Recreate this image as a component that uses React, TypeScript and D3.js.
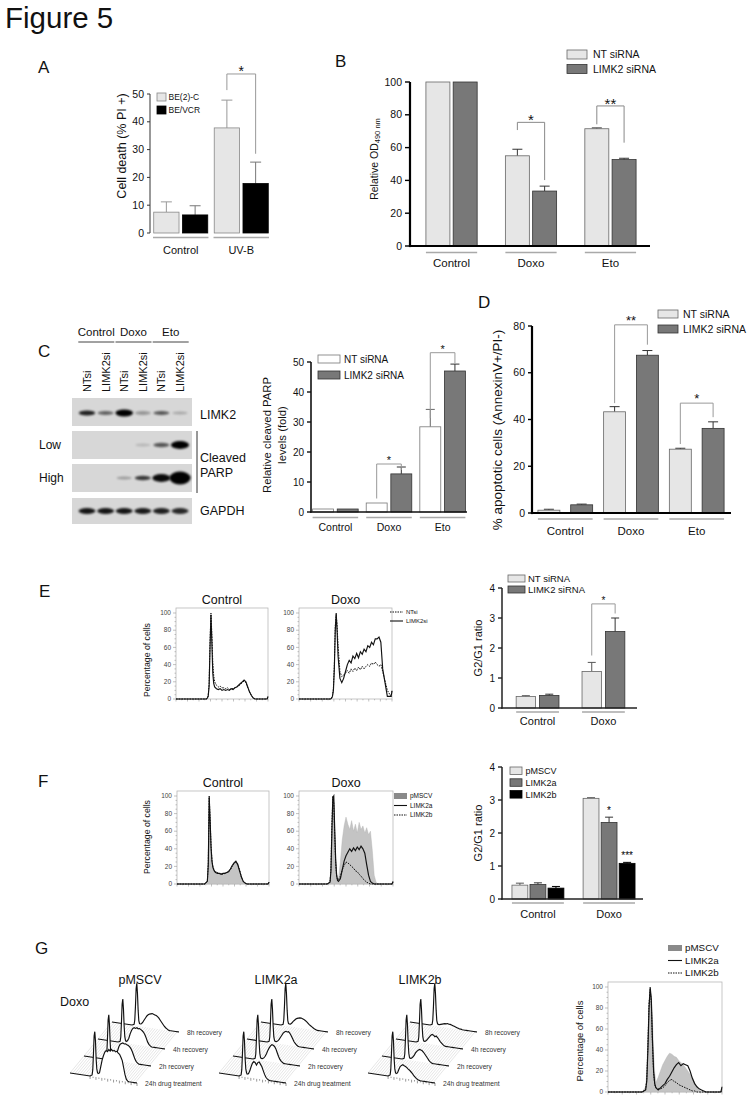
import React from 'react';
import * as d3 from 'd3';

const FONT = "'Liberation Sans', Arial, Helvetica, sans-serif";
const LIGHT = '#e6e6e6';
const DARK = '#787878';
const INK = '#111';

// ===== Panel A =====
const A_GROUPS = ['Control', 'UV-B'];
const A_SERIES = ['BE(2)-C', 'BE/VCR'];
const A_MEANS = [[7.5, 6.5], [37.8, 17.8]];
const A_ERR_TOPS = [[11.2, 9.8], [47.8, 25.5]];
const A_TICKS = [0, 10, 20, 30, 40, 50];
const A_BRACKETS = [{ g: 1, top: 57.2, l: 51.4, r: 28.5, label: '*' }];

// ===== Panel B =====
const B_GROUPS = ['Control', 'Doxo', 'Eto'];
const B_SERIES = ['NT siRNA', 'LIMK2 siRNA'];
const B_MEANS = [[100, 100], [55, 33.5], [71.5, 52.7]];
const B_ERR_TOPS = [[100, 100], [59, 36.5], [72, 53.5]];
const B_TICKS = [0, 20, 40, 60, 80, 100];
const B_BRACKETS = [
  { g: 1, top: 75.4, l: 70.7, r: 40.2, label: '*' },
  { g: 2, top: 85.4, l: 74.2, r: 63, label: '**' },
];

// ===== Panel C =====
const C_TREATMENTS = ['Control', 'Doxo', 'Eto'];
const C_LANES = ['NTsi', 'LIMK2si', 'NTsi', 'LIMK2si', 'NTsi', 'LIMK2si'];
const BLOT_ROWS = ['LIMK2', 'PARP low', 'PARP high', 'GAPDH'];
const BAND_INTENSITY = [
  [0.85, 0.55, 1.0, 0.3, 0.6, 0.22],
  [0, 0, 0, 0.15, 0.6, 1.0],
  [0, 0, 0.28, 0.75, 0.95, 1.0],
  [0.9, 0.9, 0.9, 0.88, 0.85, 0.82],
];
const BAND_THICKNESS = [
  [4, 3, 6, 3, 3, 2],
  [0, 0, 0, 2, 3.5, 7],
  [0, 0, 2, 3.5, 7, 12],
  [5, 5, 5, 5, 5, 5],
];
const C_GROUPS = ['Control', 'Doxo', 'Eto'];
const C_SERIES = ['NT siRNA', 'LIMK2 siRNA'];
const C_MEANS = [[1, 1], [3, 12.7], [28.4, 47]];
const C_ERR_TOPS = [[1, 1], [3, 15], [34.2, 49.3]];
const C_TICKS = [0, 10, 20, 30, 40, 50];
const C_BRACKETS = [
  { g: 1, top: 16, l: 4.5, r: 14, label: '*' },
  { g: 2, top: 53.1, l: 31.3, r: 49.6, label: '*' },
];

// ===== Panel D =====
const D_GROUPS = ['Control', 'Doxo', 'Eto'];
const D_SERIES = ['NT siRNA', 'LIMK2 siRNA'];
const D_MEANS = [[1.2, 3.5], [43.3, 67.5], [27.3, 36.2]];
const D_ERR_TOPS = [[1.6, 3.8], [45.5, 69.5], [27.7, 39]];
const D_TICKS = [0, 20, 40, 60, 80];
const D_BRACKETS = [
  { g: 1, top: 80.5, l: 47, r: 72, label: '**' },
  { g: 2, top: 47, l: 29.5, r: 41, label: '*' },
];

// ===== Panel E (bar) =====
const E_GROUPS = ['Control', 'Doxo'];
const E_SERIES = ['NT siRNA', 'LIMK2 siRNA'];
const E_MEANS = [[0.38, 0.42], [1.22, 2.55]];
const E_ERR_TOPS = [[0.41, 0.46], [1.52, 3.0]];
const E_TICKS = [0, 1, 2, 3, 4];
const E_BRACKETS = [{ g: 1, top: 3.47, l: 1.75, r: 3.15, label: '*' }];

// ===== Panel F (bar) =====
const F_GROUPS = ['Control', 'Doxo'];
const F_SERIES = ['pMSCV', 'LIMK2a', 'LIMK2b'];
const F_MEANS = [[0.42, 0.44, 0.33], [3.05, 2.32, 1.08]];
const F_ERR_TOPS = [[0.48, 0.49, 0.38], [3.07, 2.48, 1.11]];
const F_TICKS = [0, 1, 2, 3, 4];
const F_STARS = [{ g: 1, s: 1, label: '*' }, { g: 1, s: 2, label: '***' }];

// ===== Flow histograms (DNA content grid, % of max) =====
const HX = [0, 30, 33, 34, 35, 36, 37, 38, 39, 40, 41, 42, 44, 46, 48, 50, 52, 54, 56, 58, 60, 62, 64, 66, 68, 70, 72, 74, 76, 78, 80, 82, 84, 86, 88, 90, 95, 99, 100];
const HIST_TICKS = [0, 20, 40, 60, 80, 100];

const E_CTRL_LIMK2SI = [0, 0, 0, 1, 3, 15, 60, 98, 65, 30, 18, 14, 12, 11, 12, 10, 11, 10, 11, 10, 12, 11, 13, 14, 16, 18, 20, 22, 20, 14, 8, 4, 1, 0, 0, 0, 0, 0, 3];
const E_CTRL_NTSI = [0, 0, 0, 1, 4, 18, 68, 100, 75, 42, 27, 20, 16, 14, 15, 13, 13, 12, 13, 11, 12, 12, 13, 14, 15, 17, 19, 21, 19, 13, 8, 4, 1, 0, 0, 0, 0, 0, 2];
const E_DOXO_LIMK2SI = [0, 0, 0, 0, 1, 3, 10, 35, 80, 100, 78, 50, 24, 19, 24, 32, 40, 45, 42, 50, 47, 53, 48, 55, 52, 58, 55, 62, 60, 66, 63, 70, 70, 72, 66, 35, 3, 3, 9];
const E_DOXO_NTSI = [0, 0, 0, 0, 1, 4, 12, 40, 85, 98, 85, 62, 32, 26, 28, 30, 33, 30, 35, 32, 36, 33, 37, 34, 38, 35, 38, 40, 38, 42, 40, 43, 40, 38, 40, 32, 10, 3, 10];

const F_CTRL_PMSCV = [0, 0, 3, 20, 96, 70, 40, 25, 19, 16, 15, 14, 13, 12, 12, 12, 13, 13, 15, 17, 20, 23, 26, 24, 17, 9, 3, 1, 0, 0, 0, 0, 0, 0, 0, 0, 0, 0, 2];
const F_CTRL_LIMK2A = [0, 0, 3, 22, 99, 72, 42, 26, 19, 16, 14, 13, 12, 12, 11, 12, 12, 13, 14, 17, 21, 24, 26, 22, 15, 8, 3, 1, 0, 0, 0, 0, 0, 0, 0, 0, 0, 0, 2];
const F_CTRL_LIMK2B = [0, 0, 3, 24, 100, 74, 44, 27, 20, 17, 15, 14, 13, 12, 12, 11, 12, 13, 14, 16, 20, 23, 25, 23, 16, 8, 3, 1, 0, 0, 0, 0, 0, 0, 0, 0, 0, 0, 2];
const F_DOXO_PMSCV = [0, 0, 2, 12, 50, 88, 92, 60, 30, 14, 8, 6, 25, 50, 66, 76, 68, 62, 72, 60, 68, 58, 70, 62, 66, 58, 64, 56, 60, 38, 10, 2, 0, 0, 0, 0, 0, 0, 2];
const F_DOXO_LIMK2A = [0, 0, 2, 15, 60, 98, 100, 62, 28, 10, 4, 3, 6, 16, 26, 32, 36, 40, 37, 41, 38, 42, 39, 43, 40, 35, 22, 10, 3, 1, 0, 0, 0, 0, 0, 0, 0, 0, 3];
const F_DOXO_LIMK2B = [0, 0, 2, 18, 68, 100, 92, 55, 24, 9, 5, 5, 9, 16, 21, 25, 24, 22, 20, 18, 15, 14, 11, 9, 6, 4, 2, 1, 0, 0, 0, 0, 0, 0, 0, 0, 0, 0, 2];

const G_PMSCV = [0, 0, 5, 18, 50, 82, 95, 92, 70, 38, 18, 9, 14, 20, 26, 30, 34, 37, 36, 34, 33, 30, 28, 26, 23, 20, 17, 14, 9, 5, 2, 0, 0, 0, 0, 0, 0, 0, 2];
const G_LIMK2A = [0, 0, 2, 10, 40, 80, 100, 88, 50, 20, 8, 4, 2, 4, 6, 8, 12, 15, 19, 23, 26, 28, 25, 27, 26, 25, 20, 13, 8, 5, 3, 2, 1, 0, 0, 0, 0, 0, 5];
const G_LIMK2B = [0, 0, 2, 12, 45, 85, 98, 85, 45, 18, 7, 4, 3, 3, 4, 6, 9, 11, 12, 10, 9, 7, 6, 5, 4, 3, 2, 1, 1, 0, 0, 0, 0, 0, 0, 0, 0, 0, 3];

// ===== Panel G 3D recovery traces (front to back) =====
const G3_TIMEPOINTS = ['24h drug treatment', '2h recovery', '4h recovery', '8h recovery'];
const G3_PMSCV = [
  [0, 0, 3, 15, 50, 90, 100, 80, 40, 18, 10, 8, 10, 25, 40, 50, 58, 62, 60, 65, 62, 66, 63, 65, 62, 64, 60, 58, 52, 45, 30, 15, 5, 1, 0, 0, 0, 0, 0],
  [0, 0, 2, 12, 45, 88, 100, 78, 40, 15, 6, 4, 4, 6, 12, 22, 32, 38, 40, 42, 40, 41, 39, 38, 36, 32, 26, 18, 10, 5, 2, 0, 0, 0, 0, 0, 0, 0, 0],
  [0, 0, 2, 12, 45, 85, 97, 75, 38, 14, 6, 4, 6, 12, 22, 30, 35, 37, 36, 38, 36, 37, 35, 33, 30, 25, 18, 10, 5, 2, 0, 0, 0, 0, 0, 0, 0, 0, 0],
  [0, 0, 2, 12, 42, 82, 94, 72, 35, 12, 6, 5, 6, 10, 15, 20, 25, 28, 30, 31, 32, 31, 30, 29, 27, 24, 20, 16, 12, 8, 5, 3, 1, 0, 0, 0, 0, 0, 0],
];
const G3_LIMK2A = [
  [0, 0, 3, 15, 50, 90, 100, 80, 40, 18, 10, 7, 8, 15, 25, 33, 37, 35, 30, 36, 38, 33, 28, 20, 12, 6, 3, 1, 0, 0, 0, 0, 0, 0, 0, 0, 0, 0, 0],
  [0, 0, 2, 12, 45, 88, 100, 78, 40, 15, 6, 4, 4, 6, 10, 16, 24, 30, 35, 38, 37, 35, 30, 22, 14, 8, 4, 2, 0, 0, 0, 0, 0, 0, 0, 0, 0, 0, 0],
  [0, 0, 2, 12, 45, 85, 97, 75, 38, 14, 6, 4, 4, 6, 10, 15, 20, 25, 28, 30, 29, 30, 27, 22, 16, 10, 6, 3, 1, 0, 0, 0, 0, 0, 0, 0, 0, 0, 0],
  [0, 0, 2, 12, 42, 82, 94, 72, 35, 12, 6, 5, 5, 8, 12, 15, 18, 20, 21, 22, 22, 21, 20, 18, 16, 13, 10, 8, 6, 4, 2, 1, 0, 0, 0, 0, 0, 0, 0],
];
const G3_LIMK2B = [
  [0, 0, 3, 15, 50, 90, 100, 80, 40, 18, 10, 8, 10, 18, 25, 28, 30, 28, 27, 25, 22, 20, 17, 14, 10, 7, 4, 2, 1, 0, 0, 0, 0, 0, 0, 0, 0, 0, 0],
  [0, 0, 2, 12, 45, 88, 100, 78, 40, 15, 6, 4, 5, 8, 12, 18, 22, 25, 27, 26, 25, 22, 18, 14, 10, 6, 3, 1, 0, 0, 0, 0, 0, 0, 0, 0, 0, 0, 0],
  [0, 0, 2, 12, 45, 85, 97, 75, 38, 14, 6, 4, 5, 8, 12, 16, 20, 22, 21, 18, 20, 17, 13, 9, 6, 3, 1, 0, 0, 0, 0, 0, 0, 0, 0, 0, 0, 0, 0],
  [0, 0, 2, 12, 42, 82, 94, 72, 35, 12, 6, 4, 4, 5, 6, 7, 8, 8, 9, 8, 8, 7, 6, 5, 4, 3, 2, 1, 1, 0, 0, 0, 0, 0, 0, 0, 0, 0, 0],
];

// ---------------------------------------------------------------
function BarChart({ c }: any) {
  const x0 = d3.scaleBand().domain(c.groups).range(c.xRange).paddingInner(c.padInner).paddingOuter(c.padOuter);
  const x1 = d3.scaleBand().domain(c.series).range([0, x0.bandwidth()]).paddingInner(c.sPadInner).paddingOuter(c.sPadOuter || 0);
  const y = d3.scaleLinear().domain([0, c.yMax]).range([c.y0, c.yTop]);
  const bw = x1.bandwidth();
  const left = (gi: number, si: number) => (x0(c.groups[gi]) as number) + (x1(c.series[si]) as number);
  const mid = (gi: number, si: number) => left(gi, si) + bw / 2;
  return (
    <g>
      {c.groups.map((g: string, gi: number) => (
        <g key={g}>
          <line x1={(x0(g) as number) - c.glExt} x2={(x0(g) as number) + x0.bandwidth() + c.glExt} y1={c.glY} y2={c.glY} stroke="#a9a9a9" strokeWidth={1.6} />
          <text x={(x0(g) as number) + x0.bandwidth() / 2} y={c.labelY} textAnchor="middle" fontSize={c.labelFont} fill={INK}>{g}</text>
          {c.series.map((s: string, si: number) => {
            const v = c.means[gi][si];
            const e = c.errs[gi][si];
            const xl = left(gi, si);
            const xm = mid(gi, si);
            return (
              <g key={s}>
                {e > v && (
                  <path d={`M${xm},${y(v)}V${y(e)}M${xm - c.capW / 2},${y(e)}H${xm + c.capW / 2}`} stroke={c.errColors[si]} strokeWidth={1} fill="none" />
                )}
                <rect x={xl} y={y(v)} width={bw} height={y(0) - y(v)} fill={c.fills[si]} stroke={c.strokes[si]} strokeWidth={0.8} />
              </g>
            );
          })}
        </g>
      ))}
      <line x1={c.axisX} x2={c.axisX} y1={y(0) + (c.xAxis ? c.axisW / 2 : 0)} y2={y(c.yMax)} stroke={c.axisColor} strokeWidth={c.axisW} />
      {c.xAxis && <line x1={c.axisX - c.axisW / 2} x2={c.xEnd} y1={y(0)} y2={y(0)} stroke={c.axisColor} strokeWidth={c.axisW} />}
      {c.ticks.map((t: number) => (
        <g key={t}>
          <line x1={c.axisX - c.tickLen} x2={c.axisX} y1={y(t)} y2={y(t)} stroke={c.axisColor} strokeWidth={Math.min(1.4, c.axisW)} />
          <text x={c.axisX - c.tickLen - 3} y={y(t)} dy="0.35em" textAnchor="end" fontSize={c.tickFont} fill={INK}>{t}</text>
        </g>
      ))}
      {(c.brackets || []).map((b: any, i: number) => {
        const xa = mid(b.g, 0);
        const xb = mid(b.g, 1);
        return (
          <g key={'br' + i}>
            <path d={`M${xa},${y(b.l)}V${y(b.top)}H${xb}V${y(b.r)}`} fill="none" stroke={c.brColor} strokeWidth={1} />
            <text x={(xa + xb) / 2} y={y(b.top) + c.starDy} textAnchor="middle" fontSize={c.starFont} fill={INK}>{b.label}</text>
          </g>
        );
      })}
      {(c.stars || []).map((s: any, i: number) => (
        <text key={'st' + i} x={mid(s.g, s.s)} y={y(c.errs[s.g][s.s]) + c.starDy} textAnchor="middle" fontSize={c.starFont} fill="#000">{s.label}</text>
      ))}
    </g>
  );
}

function Legend({ l }: any) {
  return (
    <g>
      {l.items.map((it: any, i: number) => (
        <g key={i}>
          <rect x={l.x} y={l.y + i * l.gap} width={l.w} height={l.h} fill={it.fill} stroke={it.stroke} strokeWidth={0.8} />
          <text x={l.x + l.w + l.tx} y={l.y + i * l.gap + l.h / 2} dy="0.36em" fontSize={l.font} fill={INK}>{it.label}</text>
        </g>
      ))}
    </g>
  );
}

function Histo({ h }: any) {
  const xs = d3.scaleLinear().domain([0, 100]).range([h.x0, h.x1]);
  const ys = d3.scaleLinear().domain([0, 100]).range([h.yb, h.yt]);
  const line = d3.line<number>().x((_d, i) => xs(HX[i])).y((d) => ys(d));
  const area = d3.area<number>().x((_d, i) => xs(HX[i])).y0(ys(0)).y1((d) => ys(d));
  const top = ys(100) - 5;
  return (
    <g>
      <rect x={h.x0} y={top} width={h.x1 - h.x0} height={h.yb - top} fill="none" stroke="#b8b8b8" strokeWidth={0.8} />
      {d3.range(0, 101, 5).map((t) => (
        <line key={'yt' + t} x1={h.x0 - (t % 20 === 0 ? 3 : 1.5)} x2={h.x0} y1={ys(t)} y2={ys(t)} stroke="#999" strokeWidth={0.6} />
      ))}
      {HIST_TICKS.map((t) => (
        <text key={'yl' + t} x={h.x0 - 5} y={ys(t)} dy="0.35em" textAnchor="end" fontSize={h.tickFont || 6.5} fill="#444">{t}</text>
      ))}
      {d3.range(0, 100.1, 6.25).map((t, i) => (
        <line key={'xt' + i} x1={xs(t)} x2={xs(t)} y1={h.yb} y2={h.yb + (i % 2 === 0 ? 2.5 : 1.3)} stroke="#999" strokeWidth={0.6} />
      ))}
      {h.curves.map((cv: any, i: number) =>
        cv.kind === 'fill' ? (
          <path key={i} d={area(cv.ys) as string} fill="#c4c4c4" stroke="#b0b0b0" strokeWidth={0.4} />
        ) : (
          <path key={i} d={line(cv.ys) as string} fill="none" stroke="#111" strokeWidth={cv.kind === 'solid' ? 1.15 : 1}
            strokeDasharray={cv.kind === 'dotted' ? '1.6 1.1' : undefined} />
        )
      )}
      {h.title && <text x={(h.x0 + h.x1) / 2} y={h.titleY} textAnchor="middle" fontSize={12.5} fill={INK}>{h.title}</text>}
      {h.ylabel && (
        <text transform={`translate(${h.ylabelX},${h.ylabelY}) rotate(-90)`} textAnchor="middle" fontSize={h.ylabelFont} fill={INK}>{h.ylabel}</text>
      )}
    </g>
  );
}

function LineLegend({ l }: any) {
  return (
    <g>
      {l.items.map((it: any, i: number) => {
        const yy = l.y + i * l.gap;
        return (
          <g key={i}>
            {it.kind === 'fill' ? (
              <rect x={l.x} y={yy - 3} width={l.w} height={6} fill="#8a8a8a" />
            ) : (
              <line x1={l.x} x2={l.x + l.w} y1={yy} y2={yy} stroke="#111" strokeWidth={1.1} strokeDasharray={it.kind === 'dotted' ? '1.5 1' : undefined} />
            )}
            <text x={l.x + l.w + 3} y={yy} dy="0.35em" fontSize={l.font} fill={INK}>{it.label}</text>
          </g>
        );
      })}
    </g>
  );
}

function Waterfall({ w }: any) {
  const W = 67, S = 10, DX = 14, DY = -17, H = 0.45;
  const P = (i: number, u: number, v: number): [number, number] => [w.ox + i * DX + (u / 100) * W, w.oy + i * DY + (u / 100) * S - v * H];
  const n = w.traces.length;
  const hatch = d3.range(0, 100.01, 3.6).map((u) => {
    const a = P(0, u, 0);
    const b = P(n - 1, u, 0);
    return `M${a[0]},${a[1]}L${b[0]},${b[1]}`;
  }).join('');
  const order = d3.range(n).reverse();
  return (
    <g>
      <path d={hatch} stroke="#cdcdcd" strokeWidth={0.5} fill="none" />
      {d3.range(30, 100.1, 4.375).map((u, k) => {
        const a = P(0, u, 0);
        return <line key={'tk' + k} x1={a[0]} x2={a[0]} y1={a[1]} y2={a[1] + (k % 2 === 0 ? 3 : 1.6)} stroke="#555" strokeWidth={0.6} />;
      })}
      {order.map((i) => {
        const ys = w.traces[i];
        const pts = HX.map((u, k) => P(i, u, ys[k]));
        const d = d3.line()(pts) as string;
        const a = P(i, 0, 0);
        const b = P(i, 100, 0);
        return (
          <g key={i}>
            <path d={`${d}L${b[0]},${b[1]}L${a[0]},${a[1]}Z`} fill="#fff" stroke="none" />
            <path d={d} fill="none" stroke="#111" strokeWidth={1.15} />
            <text x={b[0] + 8} y={b[1] + 3} fontSize={6.7} fill="#333">{w.labels[i]}</text>
          </g>
        );
      })}
    </g>
  );
}

function Blot() {
  const lane = d3.scalePoint<number>().domain(d3.range(6)).range([87, 180]);
  const rows = [[398, 426], [431, 459], [464, 492], [498, 524]];
  return (
    <g>
      <defs>
        <filter id="bandblur" x="-50%" y="-300%" width="200%" height="700%">
          <feGaussianBlur stdDeviation="0.9" />
        </filter>
      </defs>
      {C_TREATMENTS.map((t, k) => {
        const cx = ((lane(2 * k) as number) + (lane(2 * k + 1) as number)) / 2;
        return (
          <g key={t}>
            <text x={cx} y={336} textAnchor="middle" fontSize={11.5} fill={INK}>{t}</text>
            <line x1={cx - 18} x2={cx + 18} y1={342} y2={342} stroke="#444" strokeWidth={1} />
          </g>
        );
      })}
      {C_LANES.map((ln, k) => (
        <text key={k} transform={`translate(${lane(k)},392) rotate(-90)`} dy="0.36em" fontSize={11} fill={INK}>{ln}</text>
      ))}
      {BLOT_ROWS.map((r, ri) => {
        const [y0, y1] = rows[ri];
        const cy = (y0 + y1) / 2 + (ri === 0 ? 1 : 0);
        return (
          <g key={r}>
            <rect x={72} y={y0} width={120} height={y1 - y0} fill="#d7d7d7" />
            {BAND_INTENSITY[ri].map((I, k) =>
              I > 0 ? (
                <ellipse key={k} cx={lane(k)} cy={cy} rx={(14 + BAND_THICKNESS[ri][k] * 0.6) / 2} ry={BAND_THICKNESS[ri][k] / 2 + 0.4}
                  fill="#000" opacity={I} filter="url(#bandblur)" />
              ) : null
            )}
          </g>
        );
      })}
      <text x={200} y={419} fontSize={12.5} fill={INK}>LIMK2</text>
      <text x={200} y={462} fontSize={12.5} fill={INK}>Cleaved</text>
      <text x={200} y={477} fontSize={12.5} fill={INK}>PARP</text>
      <text x={200} y={515} fontSize={12.5} fill={INK}>GAPDH</text>
      <text x={39} y={449} fontSize={12} fill={INK}>Low</text>
      <text x={39} y={482} fontSize={12} fill={INK}>High</text>
      <line x1={197} x2={197} y1={431} y2={493} stroke="#333" strokeWidth={1} />
    </g>
  );
}

// ---------------------------------------------------------------
const A_CFG = {
  groups: A_GROUPS, series: A_SERIES, means: A_MEANS, errs: A_ERR_TOPS, ticks: A_TICKS, brackets: A_BRACKETS,
  xRange: [152, 270], padInner: 0.05, padOuter: 0, sPadInner: 0.12, sPadOuter: 0.06,
  yMax: 50, y0: 233, yTop: 94, axisX: 150, axisW: 1, axisColor: '#333', xAxis: false, tickLen: 3, tickFont: 10.5,
  fills: [LIGHT, '#000'], strokes: ['#888', '#000'], errColors: ['#999', '#777'], capW: 11,
  glY: 237.5, glExt: -1, labelY: 254, labelFont: 11, brColor: '#999', starFont: 14, starDy: 2,
};
const B_CFG = {
  groups: B_GROUPS, series: B_SERIES, means: B_MEANS, errs: B_ERR_TOPS, ticks: B_TICKS, brackets: B_BRACKETS,
  xRange: [414, 648], padInner: 0.355, padOuter: 0.15, sPadInner: 0.12, sPadOuter: 0,
  yMax: 100, y0: 246, yTop: 82, axisX: 410, axisW: 2.2, axisColor: '#000', xAxis: true, xEnd: 650, tickLen: 5, tickFont: 10.5,
  fills: [LIGHT, DARK], strokes: ['#666', '#333'], errColors: ['#333', '#333'], capW: 10,
  glY: 252.5, glExt: 0, labelY: 267, labelFont: 11.5, brColor: '#888', starFont: 15, starDy: 3,
};
const C_CFG = {
  groups: C_GROUPS, series: C_SERIES, means: C_MEANS, errs: C_ERR_TOPS, ticks: C_TICKS, brackets: C_BRACKETS,
  xRange: [311, 467], padInner: 0.15, padOuter: 0.03, sPadInner: 0.15, sPadOuter: 0,
  yMax: 50, y0: 512, yTop: 362, axisX: 311, axisW: 1.6, axisColor: '#111', xAxis: true, xEnd: 467, tickLen: 4, tickFont: 10,
  fills: ['#fff', DARK], strokes: ['#777', '#333'], errColors: ['#666', '#333'], capW: 9,
  glY: 517.5, glExt: 0, labelY: 531, labelFont: 10.5, brColor: '#999', starFont: 11, starDy: 0,
};
const D_CFG = {
  groups: D_GROUPS, series: D_SERIES, means: D_MEANS, errs: D_ERR_TOPS, ticks: D_TICKS, brackets: D_BRACKETS,
  xRange: [532, 730], padInner: 0.167, padOuter: 0.09, sPadInner: 0.33, sPadOuter: 0,
  yMax: 80, y0: 513, yTop: 326, axisX: 532, axisW: 2.2, axisColor: '#000', xAxis: true, xEnd: 731, tickLen: 4, tickFont: 10.5,
  fills: [LIGHT, DARK], strokes: ['#666', '#333'], errColors: ['#333', '#333'], capW: 10,
  glY: 519, glExt: 0, labelY: 535, labelFont: 11.5, brColor: '#999', starFont: 13, starDy: 0,
};
const E_CFG = {
  groups: E_GROUPS, series: E_SERIES, means: E_MEANS, errs: E_ERR_TOPS, ticks: E_TICKS, brackets: E_BRACKETS,
  xRange: [502, 639], padInner: 0.35, padOuter: 0.215, sPadInner: 0.17, sPadOuter: 0,
  yMax: 4, y0: 708, yTop: 588, axisX: 502, axisW: 1.5, axisColor: '#222', xAxis: true, xEnd: 637, tickLen: 4, tickFont: 10,
  fills: [LIGHT, DARK], strokes: ['#666', '#333'], errColors: ['#555', '#333'], capW: 8,
  glY: 712, glExt: 0, labelY: 725, labelFont: 11, brColor: '#999', starFont: 10, starDy: 0,
};
const F_CFG = {
  groups: F_GROUPS, series: F_SERIES, means: F_MEANS, errs: F_ERR_TOPS, ticks: F_TICKS, stars: F_STARS,
  xRange: [502, 645], padInner: 0.27, padOuter: 0.14, sPadInner: 0.12, sPadOuter: 0,
  yMax: 4, y0: 899, yTop: 767, axisX: 502, axisW: 1.5, axisColor: '#222', xAxis: true, xEnd: 643, tickLen: 4, tickFont: 10,
  fills: [LIGHT, DARK, '#000'], strokes: ['#666', '#333', '#000'], errColors: ['#555', '#333', '#000'], capW: 8,
  glY: 903, glExt: 0, labelY: 918, labelFont: 11, starFont: 10, starDy: -3,
};

const E_HISTS = [
  { x0: 176, x1: 268, yb: 699, yt: 613, title: 'Control', titleY: 604, ylabel: 'Percentage of cells', ylabelX: 150, ylabelY: 660, ylabelFont: 8.7,
    curves: [{ kind: 'dotted', ys: E_CTRL_NTSI }, { kind: 'solid', ys: E_CTRL_LIMK2SI }] },
  { x0: 299, x1: 392, yb: 699, yt: 613, title: 'Doxo', titleY: 604,
    curves: [{ kind: 'dotted', ys: E_DOXO_NTSI }, { kind: 'solid', ys: E_DOXO_LIMK2SI }] },
];
const F_HISTS = [
  { x0: 177, x1: 269, yb: 884, yt: 796, title: 'Control', titleY: 787, ylabel: 'Percentage of cells', ylabelX: 150, ylabelY: 837, ylabelFont: 8.7,
    curves: [{ kind: 'fill', ys: F_CTRL_PMSCV }, { kind: 'dotted', ys: F_CTRL_LIMK2B }, { kind: 'solid', ys: F_CTRL_LIMK2A }] },
  { x0: 299, x1: 393, yb: 884, yt: 796, title: 'Doxo', titleY: 787,
    curves: [{ kind: 'fill', ys: F_DOXO_PMSCV }, { kind: 'dotted', ys: F_DOXO_LIMK2B }, { kind: 'solid', ys: F_DOXO_LIMK2A }] },
];
const G_HIST = {
  x0: 608, x1: 722, yb: 1092, yt: 987, ylabel: 'Percentage of cells', ylabelX: 583, ylabelY: 1041, ylabelFont: 9.5,
  curves: [{ kind: 'fill', ys: G_PMSCV }, { kind: 'dotted', ys: G_LIMK2B }, { kind: 'solid', ys: G_LIMK2A }],
};
const G_WATERFALLS = [
  { title: 'pMSCV', tx: 140, ox: 70, oy: 1073, traces: G3_PMSCV, labels: G3_TIMEPOINTS },
  { title: 'LIMK2a', tx: 276, ox: 219, oy: 1073, traces: G3_LIMK2A, labels: G3_TIMEPOINTS },
  { title: 'LIMK2b', tx: 420, ox: 368, oy: 1073, traces: G3_LIMK2B, labels: G3_TIMEPOINTS },
];

function YLabel({ x, y, size, children }: any) {
  return <text transform={`translate(${x},${y}) rotate(-90)`} textAnchor="middle" fontSize={size} fill={INK}>{children}</text>;
}

export default function App() {
  const letter = (t: string, x: number, y: number) => <text x={x} y={y} fontSize={17} fill={INK}>{t}</text>;
  return (
    <svg width={750} height={1103} style={{ position: 'absolute', left: 0, top: 0 }} fontFamily={FONT}>
      <rect width={750} height={1103} fill="#fff" />
      <text x={5} y={28} fontSize={29.5} fill={INK}>Figure 5</text>
      {letter('A', 38, 73)}
      {letter('B', 335, 67)}
      {letter('C', 38, 357)}
      {letter('D', 478, 308)}
      {letter('E', 39, 597)}
      {letter('F', 38, 787)}
      {letter('G', 35, 954)}

      {/* A */}
      <BarChart c={A_CFG} />
      <Legend l={{ x: 157, y: 93, w: 9, h: 8, gap: 13, tx: 2.5, font: 8.5, items: [{ fill: LIGHT, stroke: '#888', label: 'BE(2)-C' }, { fill: '#000', stroke: '#000', label: 'BE/VCR' }] }} />
      <YLabel x={126} y={146} size={12.5}>Cell death (% PI +)</YLabel>

      {/* B */}
      <BarChart c={B_CFG} />
      <Legend l={{ x: 567, y: 50, w: 20, h: 9, gap: 14.5, tx: 6, font: 10.5, items: [{ fill: LIGHT, stroke: '#666', label: 'NT siRNA' }, { fill: DARK, stroke: '#333', label: 'LIMK2 siRNA' }] }} />
      <text transform="translate(378,159) rotate(-90)" textAnchor="middle" fontSize={10.5} fill={INK}>
        Relative OD<tspan fontSize={7.5} dy={1.5}>490 nm</tspan>
      </text>

      {/* C */}
      <Blot />
      <BarChart c={C_CFG} />
      <Legend l={{ x: 318, y: 355, w: 22, h: 8, gap: 16, tx: 4, font: 10, items: [{ fill: '#fff', stroke: '#777', label: 'NT siRNA' }, { fill: DARK, stroke: '#333', label: 'LIMK2 siRNA' }] }} />
      <YLabel x={271} y={435} size={11.3}>Relative cleaved PARP</YLabel>
      <YLabel x={286} y={435} size={11.3}>levels (fold)</YLabel>

      {/* D */}
      <BarChart c={D_CFG} />
      <Legend l={{ x: 658, y: 310, w: 20, h: 8, gap: 15, tx: 5, font: 10.5, items: [{ fill: LIGHT, stroke: '#666', label: 'NT siRNA' }, { fill: DARK, stroke: '#333', label: 'LIMK2 siRNA' }] }} />
      <YLabel x={502} y={430} size={13.5}>% apoptotic cells (AnnexinV+/PI-)</YLabel>

      {/* E */}
      {E_HISTS.map((h, i) => <Histo key={i} h={h} />)}
      <LineLegend l={{ x: 390, y: 612, gap: 9, w: 13, font: 6, items: [{ kind: 'dotted', label: 'NTsi' }, { kind: 'solid', label: 'LIMK2si' }] }} />
      <BarChart c={E_CFG} />
      <Legend l={{ x: 508, y: 575, w: 17, h: 7, gap: 11, tx: 3, font: 9.5, items: [{ fill: LIGHT, stroke: '#666', label: 'NT siRNA' }, { fill: DARK, stroke: '#333', label: 'LIMK2 siRNA' }] }} />
      <YLabel x={482} y={648} size={11}>G2/G1 ratio</YLabel>

      {/* F */}
      {F_HISTS.map((h, i) => <Histo key={i} h={h} />)}
      <LineLegend l={{ x: 394, y: 796, gap: 9.5, w: 13, font: 6.5, items: [{ kind: 'fill', label: 'pMSCV' }, { kind: 'solid', label: 'LIMK2a' }, { kind: 'dotted', label: 'LIMK2b' }] }} />
      <BarChart c={F_CFG} />
      <Legend l={{ x: 510, y: 767, w: 12, h: 7.5, gap: 11.8, tx: 3.5, font: 9, items: [{ fill: LIGHT, stroke: '#666', label: 'pMSCV' }, { fill: DARK, stroke: '#333', label: 'LIMK2a' }, { fill: '#000', stroke: '#000', label: 'LIMK2b' }] }} />
      <YLabel x={482} y={833} size={11}>G2/G1 ratio</YLabel>

      {/* G */}
      <text x={60} y={1006} fontSize={12.5} fill={INK}>Doxo</text>
      {G_WATERFALLS.map((w, i) => (
        <g key={i}>
          <text x={w.tx} y={984} textAnchor="middle" fontSize={12.5} fill={INK}>{w.title}</text>
          <Waterfall w={w} />
        </g>
      ))}
      <Histo h={G_HIST} />
      <LineLegend l={{ x: 668, y: 948, gap: 12.5, w: 14, font: 9.8, items: [{ kind: 'fill', label: 'pMSCV' }, { kind: 'solid', label: 'LIMK2a' }, { kind: 'dotted', label: 'LIMK2b' }] }} />
    </svg>
  );
}
